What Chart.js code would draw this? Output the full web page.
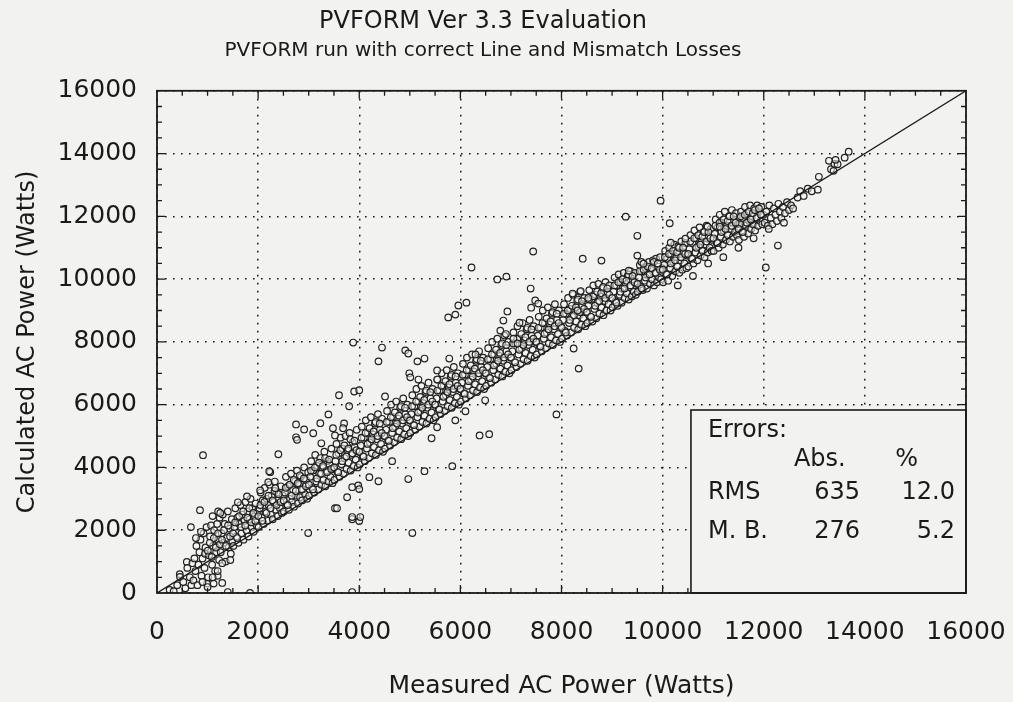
<!DOCTYPE html>
<html>
<head>
<meta charset="utf-8">
<script src="https://cdn.jsdelivr.net/npm/chart.js@4.4.1/dist/chart.umd.min.js"></script>
<style>
html,body{margin:0;padding:0;background:#f2f2f0;}
#wrap{width:1013px;height:702px;}
</style>
</head>
<body>
<div id="wrap"><canvas id="c" width="1013" height="702"></canvas></div>
<script>
// ---- DATA ----
const titleText = "PVFORM Ver 3.3 Evaluation";
const subtitleText = "PVFORM run with correct Line and Mismatch Losses";
const xAxisTitle = "Measured AC Power (Watts)";
const yAxisTitle = "Calculated AC Power (Watts)";
const axisMin = 0, axisMax = 16000, majorStep = 2000, minorStep = 500;
const identityLine = [0, 16000];
const errorHeader = ["Errors:", "Abs.", "%"];
const errorRows = [["RMS", "635", "12.0"], ["M. B.", "276", "5.2"]];

// dense band of measured vs calculated (W)
const denseBand = [
[250,100],[330,60],[400,250],[450,600],[455,510],[520,350],[560,150],[590,990],[600,800],[650,500],[700,950],[680,250],
[720,400],[740,1100],[760,700],[780,1500],[800,250],[820,900],[840,1300],[860,1700],[880,550],[900,1100],[920,1900],[940,800],[960,1450],[980,2100],[990,300],[950,1250],[870,1950],[770,1750],
[1010,500],[1030,1200],[1050,1800],[1070,2150],[1090,900],[1110,1500],[1130,2000],[1150,700],[1170,1300],[1190,2200],[1210,1700],[1230,1050],[1240,2400],[1120,300],[1200,550],
[1260,1300],[1280,1900],[1300,2500],[1320,1600],[1340,2200],[1360,1000],[1380,1750],[1400,2600],[1420,1450],[1440,2050],[1460,1250],[1480,2350],[1490,1650],
[1510,1500],[1530,2100],[1550,2700],[1570,1800],[1590,2400],[1610,1600],[1630,2200],[1650,2800],[1670,1900],[1690,2500],[1710,1700],[1730,2300],[1750,2900],[1770,2000],[1790,2600],[1810,1800],[1830,2350],[1850,3000],[1870,2100],[1890,2700],[1910,1950],[1930,2450],[1950,2850],[1970,2150],[1990,2600],
[2010,2100],[2030,2700],[2050,3200],[2070,2400],[2090,2950],[2110,2200],[2130,3350],[2150,2600],[2170,3000],[2190,2300],[2210,2800],[2230,3450],[2250,2500],[2270,3100],[2290,2350],[2310,2900],[2330,3550],[2350,2650],[2370,3200],[2390,2450],[2410,3000],[2430,2700],[2450,3400],[2470,2550],[2490,3100],
[2510,2600],[2530,3200],[2550,3700],[2570,2800],[2590,3400],[2610,2650],[2630,3000],[2650,3800],[2670,2900],[2690,3300],[2710,2750],[2730,3550],[2750,3100],[2770,3900],[2790,2850],[2810,3450],[2830,3050],[2850,3700],[2870,2950],[2890,3300],[2910,4000],[2930,3150],[2950,3600],[2970,3000],[2990,3850],
[3010,3100],[3030,3700],[3050,4200],[3070,3350],[3090,3900],[3110,3200],[3130,4400],[3150,3550],[3170,4050],[3190,3300],[3210,3800],[3230,4300],[3250,3450],[3270,4000],[3290,3600],[3310,4500],[3330,3400],[3350,3900],[3370,4200],[3390,3550],[3410,4100],[3430,3700],[3450,4600],[3470,3500],[3490,3950],
[3510,3600],[3530,4200],[3550,4750],[3570,3850],[3590,4450],[3610,3700],[3630,4950],[3650,4100],[3670,4600],[3690,3800],[3710,4300],[3730,5000],[3750,3950],[3770,4550],[3790,4150],[3810,5100],[3830,3900],[3850,4400],[3870,4800],[3890,4050],[3910,4650],[3930,4250],[3950,5200],[3970,4000],[3990,4500],
[4010,4100],[4030,4700],[4050,5300],[4070,4350],[4090,4950],[4110,4200],[4130,5500],[4150,4600],[4170,5100],[4190,4300],[4210,4800],[4230,5600],[4250,4450],[4270,5050],[4290,4650],[4310,5400],[4330,4400],[4350,4900],[4370,5700],[4390,4550],[4410,5200],[4430,4750],[4450,5550],[4470,4500],[4490,5000],
[4510,4600],[4530,5200],[4550,5800],[4570,4850],[4590,5450],[4610,4700],[4630,6000],[4650,5100],[4670,5600],[4690,4800],[4710,5300],[4730,6100],[4750,4950],[4770,5550],[4790,5150],[4810,5900],[4830,4900],[4850,5400],[4870,6200],[4890,5050],[4910,5700],[4930,5250],[4950,6000],[4970,5000],[4990,5500],
[5010,5100],[5030,5700],[5050,6300],[5070,5350],[5090,5950],[5110,5200],[5130,6500],[5150,5600],[5170,6100],[5190,5300],[5210,5800],[5230,6600],[5250,5450],[5270,6050],[5290,5650],[5310,6400],[5330,5400],[5350,5900],[5370,6700],[5390,5550],[5410,6200],[5430,5750],[5450,6500],[5470,5500],[5490,6000],
[5510,5600],[5530,6200],[5550,6800],[5570,5850],[5590,6450],[5610,5700],[5630,7000],[5650,6100],[5670,6600],[5690,5800],[5710,6300],[5730,7100],[5750,5950],[5770,6550],[5790,6150],[5810,6900],[5830,5900],[5850,6400],[5870,7200],[5890,6050],[5910,6700],[5930,6250],[5950,7000],[5970,6000],[5990,6500],
[6010,6100],[6030,6700],[6050,7300],[6070,6350],[6090,6950],[6110,6200],[6130,7500],[6150,6600],[6170,7100],[6190,6300],[6210,6800],[6230,7600],[6250,6450],[6270,7050],[6290,6650],[6310,7400],[6330,6400],[6350,6900],[6370,7700],[6390,6550],[6410,7200],[6430,6750],[6450,7500],[6470,6500],[6490,7000],
[6510,6600],[6530,7200],[6550,7800],[6570,6850],[6590,7450],[6610,6700],[6630,8000],[6650,7100],[6670,7600],[6690,6800],[6710,7300],[6730,8100],[6750,6950],[6770,7550],[6790,7150],[6810,7900],[6830,6900],[6850,7400],[6870,8200],[6890,7050],[6910,7700],[6930,7250],[6950,8000],[6970,7000],[6990,7500],
[7010,7100],[7030,7700],[7050,8300],[7070,7350],[7090,7950],[7110,7200],[7130,8500],[7150,7600],[7170,8100],[7190,7300],[7210,7800],[7230,8600],[7250,7450],[7270,8050],[7290,7650],[7310,8400],[7330,7400],[7350,7900],[7370,8700],[7390,7550],[7410,8200],[7430,7750],[7450,8500],[7470,7500],[7490,8000],
[7510,7600],[7530,8200],[7550,8800],[7570,7850],[7590,8450],[7610,7700],[7630,9000],[7650,8100],[7670,8600],[7690,7800],[7710,8300],[7730,9100],[7750,7950],[7770,8550],[7790,8150],[7810,8900],[7830,7900],[7850,8400],[7870,9200],[7890,8050],[7910,8700],[7930,8250],[7950,9000],[7970,8000],[7990,8500],
[8010,8100],[8030,8700],[8050,9200],[8070,8350],[8090,8900],[8110,8200],[8130,9400],[8150,8600],[8170,9050],[8190,8300],[8210,8800],[8230,9500],[8250,8450],[8270,9000],[8290,8650],[8310,9300],[8330,8400],[8350,8850],[8370,9600],[8390,8550],[8410,9150],[8430,8750],[8450,9400],[8470,8500],[8490,8950],
[8510,8600],[8530,9150],[8550,9650],[8570,8800],[8590,9350],[8610,8650],[8630,9800],[8650,9050],[8670,9500],[8690,8750],[8710,9250],[8730,9850],[8750,8900],[8770,9450],[8790,9100],[8810,9700],[8830,8850],[8850,9300],[8870,9900],[8890,9000],[8910,9550],[8930,9200],[8950,9800],[8970,9000],[8990,9400],
[9010,9100],[9030,9600],[9050,10050],[9070,9300],[9090,9800],[9110,9150],[9130,10150],[9150,9500],[9170,9900],[9190,9250],[9210,9700],[9230,10200],[9250,9400],[9270,9850],[9290,9550],[9310,10100],[9330,9350],[9350,9750],[9370,10250],[9390,9450],[9410,9950],[9430,9600],[9450,10200],[9470,9500],[9490,9850],
[9510,9600],[9530,10050],[9550,10450],[9570,9750],[9590,10250],[9610,9650],[9630,10500],[9650,9950],[9670,10350],[9690,9700],[9710,10150],[9730,10550],[9750,9850],[9770,10300],[9790,10000],[9810,10600],[9830,9800],[9850,10200],[9870,10650],[9890,9900],[9910,10400],[9930,10050],[9950,10700],[9970,10000],[9990,10350],
[10010,9900],[10030,10450],[10050,10900],[10070,10150],[10090,10650],[10110,9950],[10130,11000],[10150,10350],[10170,10800],[10190,10100],[10210,10550],[10230,11100],[10250,10250],[10270,10700],[10290,10400],[10310,11050],[10330,10200],[10350,10600],[10370,11200],[10390,10300],[10410,10850],[10430,10500],[10450,11150],[10470,10350],[10490,10750],
[10510,10400],[10530,10950],[10550,11400],[10570,10650],[10590,11150],[10610,10500],[10630,11550],[10650,10850],[10670,11300],[10690,10600],[10710,11050],[10730,11650],[10750,10750],[10770,11200],[10790,10900],[10810,11500],[10830,10700],[10850,11100],[10870,11700],[10890,10850],[10910,11350],[10930,11000],[10950,11600],[10970,10900],[10990,11250],
[11010,10900],[11030,11450],[11050,11900],[11070,11150],[11090,11650],[11110,11000],[11130,12050],[11150,11350],[11170,11800],[11190,11100],[11210,11550],[11230,12150],[11250,11250],[11270,11700],[11290,11400],[11310,12000],[11330,11200],[11350,11600],[11370,12200],[11390,11350],[11410,11850],[11430,11500],[11450,12100],[11470,11400],[11490,11750],
[11510,11250],[11530,11750],[11550,12150],[11570,11500],[11590,11950],[11610,11350],[11630,12300],[11650,11700],[11670,12100],[11690,11450],[11710,11850],[11730,12350],[11750,11600],[11770,12000],[11790,11750],[11810,12250],[11830,11550],[11850,11950],[11870,12350],[11890,11700],[11910,12150],[11930,11850],[11950,12300],[11970,11750],[11990,12050],
[12020,11800],[12050,12150],[12080,11700],[12110,12350],[12140,11950],[12170,11750],[12200,12250],[12230,12050],[12260,11850],[12290,12400],[12320,12150],[12350,11950],[12380,12300],[12420,12100],[12460,12450],[12500,12200],[12540,12350],[12580,12250]
];
// second, denser layer in the core of the band
const bandCore = [
[1005,1350],[1045,1600],[1085,1150],[1125,1750],[1165,1450],[1205,1900],[1245,1550],[1285,1700],[1325,2000],[1365,1500],[1405,2150],[1445,1800],
[1505,1900],[1545,2250],[1585,1750],[1625,2450],[1665,2100],[1705,2600],[1745,2150],[1785,2400],[1825,2700],[1865,2250],[1905,2550],[1945,2300],
[2005,2450],[2045,2800],[2085,2300],[2125,2900],[2165,2550],[2205,3100],[2245,2700],[2285,2950],[2325,3250],[2365,2800],[2405,3150],[2445,2900],
[2505,2950],[2545,3350],[2585,2800],[2625,3450],[2665,3100],[2705,3600],[2745,3250],[2785,3500],[2825,3750],[2865,3300],[2905,3650],[2945,3400],
[3005,3450],[3045,3900],[3085,3300],[3125,4000],[3165,3650],[3205,4150],[3245,3800],[3285,4050],[3325,4300],[3365,3850],[3405,4250],[3445,3950],
[3505,4000],[3545,4400],[3585,3850],[3625,4550],[3665,4200],[3705,4700],[3745,4350],[3785,4600],[3825,4900],[3865,4450],[3905,4850],[3945,4550],
[4005,4500],[4045,4950],[4085,4350],[4125,5100],[4165,4750],[4205,5250],[4245,4900],[4285,5150],[4325,5450],[4365,5000],[4405,5400],[4445,5100],
[4505,5000],[4545,5450],[4585,4850],[4625,5600],[4665,5250],[4705,5750],[4745,5400],[4785,5650],[4825,5950],[4865,5500],[4905,5900],[4945,5600],
[5005,5500],[5045,5950],[5085,5350],[5125,6100],[5165,5750],[5205,6250],[5245,5900],[5285,6150],[5325,6450],[5365,6000],[5405,6400],[5445,6100],
[5505,6000],[5545,6450],[5585,5850],[5625,6600],[5665,6250],[5705,6750],[5745,6400],[5785,6650],[5825,6950],[5865,6500],[5905,6900],[5945,6600],
[6005,6500],[6045,6950],[6085,6350],[6125,7100],[6165,6750],[6205,7250],[6245,6900],[6285,7150],[6325,7450],[6365,7000],[6405,7400],[6445,7100],
[6505,7000],[6545,7450],[6585,6850],[6625,7600],[6665,7250],[6705,7750],[6745,7400],[6785,7650],[6825,7950],[6865,7500],[6905,7900],[6945,7600],
[7005,7500],[7045,7950],[7085,7350],[7125,8100],[7165,7750],[7205,8250],[7245,7900],[7285,8150],[7325,8450],[7365,8000],[7405,8400],[7445,8100],
[7505,8000],[7545,8450],[7585,7850],[7625,8600],[7665,8250],[7705,8750],[7745,8400],[7785,8650],[7825,8950],[7865,8500],[7905,8900],[7945,8600],
[8005,8450],[8045,8900],[8085,8300],[8125,9000],[8165,8700],[8205,9150],[8245,8850],[8285,9100],[8325,9350],[8365,8950],[8405,9300],[8445,9050],
[8505,8950],[8545,9350],[8585,8800],[8625,9450],[8665,9150],[8705,9600],[8745,9300],[8785,9550],[8825,9750],[8865,9400],[8905,9700],[8945,9500],
[9005,9400],[9045,9800],[9085,9250],[9125,9900],[9165,9600],[9205,10000],[9245,9700],[9285,9950],[9325,10150],[9365,9800],[9405,10100],[9445,9900],
[9505,9850],[9545,10250],[9585,9700],[9625,10300],[9665,10050],[9705,10400],[9745,10150],[9785,10350],[9825,10550],[9865,10200],[9905,10500],[9945,10300],
[10005,10300],[10045,10700],[10085,10150],[10125,10800],[10165,10500],[10205,10900],[10245,10600],[10285,10850],[10325,11000],[10365,10700],[10405,11000],[10445,10800],
[10505,10800],[10545,11200],[10585,10650],[10625,11300],[10665,11000],[10705,11400],[10745,11100],[10785,11350],[10825,11500],[10865,11200],[10905,11500],[10945,11300],
[11005,11300],[11045,11700],[11085,11150],[11125,11800],[11165,11500],[11205,11900],[11245,11600],[11285,11850],[11325,12000],[11365,11700],[11405,12000],[11445,11800],
[11505,11600],[11545,12000],[11585,11500],[11625,12050],[11665,11800],[11705,12150],[11745,11900],[11785,12100],[11825,12200],[11865,11950],[11905,12250],[11945,12050]
];
// sparse high end of the cloud
const topTail = [
[12670,12600],[12720,12800],[12790,12650],[12870,12880],[12950,12800],[13070,12850],[13090,13260],[13290,13770],[13330,13500],[13380,13450],[13400,13670],[13460,13660],[13420,13800],[13600,13870],[13680,14060]
];
// points well above the band
const highOutliers = [
[910,4390],[670,2100],[850,2640],[1210,2600],[1100,2450],[1250,2550],[1600,2890],[1780,3080],[2040,3270],[2240,3850],[2400,4420],[2220,3880],[2200,3530],[2340,3340],
[2750,5370],[2910,5210],[3090,5090],[2750,4960],[2770,4880],[3230,5410],[3390,5690],[3480,5250],[3520,5020],[3700,5400],[3680,5250],[3250,4770],
[3600,6300],[3900,6420],[4000,6460],[3800,5950],[3880,7980],[4450,7820],[4910,7730],[4970,7630],[4380,7380],[5150,7380],[5290,7470],[5780,7470],[5540,7090],
[4990,7000],[5010,6870],[5170,6800],[5540,6800],[4510,6260],[6300,7600],[5760,8780],[5900,8870],[5960,9160],[6120,9250],[6220,10370],[6730,9990],[6910,10080],
[7390,9700],[7440,10880],[7480,9320],[7540,9220],[7400,9090],[6930,8970],[6850,8680],[7170,8610],[6790,8360],[6900,8250],[7050,8100],[7130,7950],
[8420,10650],[8790,10590],[9330,10270],[9500,10750],[9580,10550],[9620,10490],[9270,11990],[9500,11380],[9960,12500],[10140,11780],[10160,11160],[10450,11290],
[10890,11670],[11130,11670],[8220,9540],[8380,9620],[8530,9400],[8320,9000]
];
// points below the 1:1 line
const lowOutliers = [
[1450,1050],[1290,950],[1290,320],[1400,30],[1840,0],[3860,30],[1000,190],[1100,500],[1200,700],[900,350],
[2990,1910],[3520,2700],[3560,2700],[3760,3050],[3860,2350],[4000,2290],[3860,2420],[4020,2420],[4200,3690],[4380,3560],[3860,3370],[3980,3430],[4000,3310],
[5050,1910],[4970,3630],[4650,4200],[5290,3880],[5840,4040],[6380,5020],[6570,5060],[5900,5500],[5430,4930],[6490,6140],[6100,5790],[5540,5280],
[7900,5690],[8240,7790],[8340,7150],[12040,10370],[12280,11070],
[10300,9800],[10600,10100],[10900,10500],[11200,10700],[11500,11000],[11800,11300],[12100,11600],[12400,11800]
];

// ---- CHART ----
const BG = '#f2f2f0';
const INK = '#1a1a1a';
const FONT = '"DejaVu Sans", "Liberation Sans", sans-serif';
const toXY = arr => arr.map(p => ({x: p[0], y: p[1]}));
const allPoints = toXY(denseBand.concat(bandCore, topTail, highOutliers, lowOutliers));

const bgPlugin = {
  id: 'bg',
  beforeDraw(chart) {
    const c = chart.ctx;
    c.save(); c.fillStyle = BG; c.fillRect(0, 0, chart.width, chart.height); c.restore();
  }
};

const framePlugin = {
  id: 'frame',
  afterDraw(chart) {
    const c = chart.ctx, a = chart.chartArea;
    const xs = chart.scales.x, ys = chart.scales.y;
    c.save();
    c.strokeStyle = INK;
    c.lineWidth = 1.3;
    for (let v = axisMin + minorStep; v < axisMax; v += minorStep) {
      const len = (v % majorStep === 0) ? 8 : 5;
      const px = xs.getPixelForValue(v), py = ys.getPixelForValue(v);
      c.beginPath();
      c.moveTo(px, a.bottom); c.lineTo(px, a.bottom - len);
      c.moveTo(px, a.top); c.lineTo(px, a.top + len);
      c.moveTo(a.left, py); c.lineTo(a.left + len, py);
      c.moveTo(a.right, py); c.lineTo(a.right - len, py);
      c.stroke();
    }
    // error box
    const bx = xs.getPixelForValue(10560), by = ys.getPixelForValue(5830);
    c.fillStyle = BG;
    c.fillRect(bx, by, a.right - bx, a.bottom - by);
    c.lineWidth = 1.6;
    c.strokeRect(bx, by, a.right - bx, a.bottom - by);
    // frame
    c.lineWidth = 1.8;
    c.strokeRect(a.left, a.top, a.right - a.left, a.bottom - a.top);
    // texts
    c.fillStyle = INK;
    c.font = '24px ' + FONT;
    c.textBaseline = 'middle';
    c.textAlign = 'left';
    c.fillText(errorHeader[0], bx + 17, by + 21);
    c.fillText(errorHeader[1], bx + 103, by + 50);
    c.textAlign = 'right';
    c.fillText(errorHeader[2], bx + 227, by + 50);
    const rowY = [by + 83, by + 122];
    errorRows.forEach((r, i) => {
      c.textAlign = 'left';
      c.fillText(r[0], bx + 17, rowY[i]);
      c.textAlign = 'right';
      c.fillText(r[1], bx + 169, rowY[i]);
      c.fillText(r[2], bx + 264, rowY[i]);
    });
    c.restore();
  }
};

const axisCommon = {
  type: 'linear',
  min: axisMin, max: axisMax,
  grid: { color: INK, lineWidth: 1.5, drawTicks: false },
  border: { display: false, dash: [1.6, 6.4] },
};
const plainTick = v => String(v);

new Chart(document.getElementById('c'), {
  type: 'scatter',
  data: {
    datasets: [
      {
        type: 'line',
        data: [{x: identityLine[0], y: identityLine[0]}, {x: identityLine[1], y: identityLine[1]}],
        borderColor: INK, borderWidth: 1.4, pointRadius: 0, fill: false, order: 0
      },
      {
        data: allPoints,
        pointStyle: 'circle', pointRadius: 3.3, borderWidth: 1.2,
        borderColor: '#222', backgroundColor: 'rgba(244,244,242,0.55)',
        clip: 0, order: 1
      }
    ]
  },
  options: {
    responsive: false, animation: false,
    devicePixelRatio: 1,
    layout: { padding: { left: 0, right: 47, top: 0, bottom: 0 } },
    plugins: {
      legend: { display: false }, tooltip: { enabled: false },
      title: {
        display: true, text: titleText, color: INK,
        font: { family: FONT, size: 24, weight: 'normal' },
        padding: { top: 7, bottom: 0 }
      },
      subtitle: {
        display: true, text: subtitleText, color: INK,
        font: { family: FONT, size: 20, weight: 'normal' },
        padding: { top: 3, bottom: 28 }
      }
    },
    scales: {
      x: Object.assign({}, axisCommon, {
        position: 'bottom',
        ticks: { stepSize: majorStep, color: INK, padding: 24, maxRotation: 0,
          font: { family: FONT, size: 25 }, callback: plainTick },
        title: { display: true, text: xAxisTitle, color: INK,
          font: { family: FONT, size: 25 }, padding: { top: 0, bottom: 1 } },
        afterFit(s) { s.height = 109; s.paddingLeft = 0; s.paddingRight = 0; }
      }),
      y: Object.assign({}, axisCommon, {
        ticks: { stepSize: majorStep, color: INK, padding: 20,
          font: { family: FONT, size: 25 }, callback: plainTick },
        title: { display: true, text: yAxisTitle, color: INK,
          font: { family: FONT, size: 24 }, padding: { top: 13, bottom: 0 } },
        afterFit(s) { s.width = 157; s.paddingTop = 0; s.paddingBottom = 0; }
      })
    }
  },
  plugins: [bgPlugin, framePlugin]
});
</script>
</body>
</html>
